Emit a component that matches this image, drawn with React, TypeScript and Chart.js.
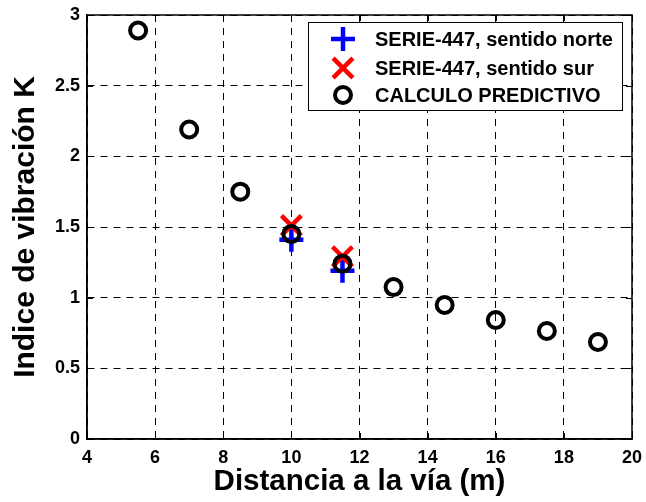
import React, { useEffect, useRef } from "react";
import { Chart, registerables } from "chart.js";

Chart.register(...registerables);

const xNorte = [10, 11.5];
const yNorte = [1.41, 1.19];
const xSur = [10, 11.5];
const ySur = [1.51, 1.29];
const xPred = [5.5, 7, 8.5, 10, 11.5, 13, 14.5, 16, 17.5, 19];
const yPred = [2.89, 2.19, 1.75, 1.45, 1.24, 1.075, 0.948, 0.842, 0.764, 0.686];
const seriesLabels = ["SERIE-447, sentido norte", "SERIE-447, sentido sur", "CALCULO PREDICTIVO"];
const xTitle = "Distancia a la vía (m)";
const yTitle = "Indice de vibración K";

const FONT = "'Liberation Sans', Arial, Helvetica, sans-serif";

function pts(xs: number[], ys: number[]) {
  return xs.map((x, i) => ({ x, y: ys[i] }));
}

function drawMarker(ctx: CanvasRenderingContext2D, style: string, x: number, y: number, r: number, color: string, lw: number) {
  ctx.save();
  ctx.strokeStyle = color;
  ctx.lineWidth = lw;
  ctx.beginPath();
  if (style === "cross") {
    ctx.moveTo(x - r, y);
    ctx.lineTo(x + r, y);
    ctx.moveTo(x, y - r);
    ctx.lineTo(x, y + r);
  } else if (style === "crossRot") {
    const d = r * Math.cos(Math.PI / 4);
    ctx.moveTo(x - d, y - d);
    ctx.lineTo(x + d, y + d);
    ctx.moveTo(x - d, y + d);
    ctx.lineTo(x + d, y - d);
  } else {
    ctx.arc(x, y, r, 0, Math.PI * 2);
  }
  ctx.stroke();
  ctx.restore();
}

const boxPlugin = {
  id: "boxPlugin",
  afterDraw(chart: any) {
    const { ctx, chartArea: a, scales } = chart;
    ctx.save();
    ctx.strokeStyle = "#000";
    ctx.lineWidth = 1.5;
    ctx.setLineDash([]);
    ctx.strokeRect(a.left, a.top, a.right - a.left, a.bottom - a.top);
    ctx.lineWidth = 1;
    const tl = 6;
    scales.x.ticks.forEach((t: any) => {
      const px = Math.round(scales.x.getPixelForValue(t.value)) + 0.5;
      ctx.beginPath();
      ctx.moveTo(px, a.bottom);
      ctx.lineTo(px, a.bottom - tl);
      ctx.moveTo(px, a.top);
      ctx.lineTo(px, a.top + tl);
      ctx.stroke();
    });
    scales.y.ticks.forEach((t: any) => {
      const py = Math.round(scales.y.getPixelForValue(t.value)) + 0.5;
      ctx.beginPath();
      ctx.moveTo(a.left, py);
      ctx.lineTo(a.left + tl, py);
      ctx.moveTo(a.right, py);
      ctx.lineTo(a.right - tl, py);
      ctx.stroke();
    });

    // legend
    const bw = 314;
    const bh = 88;
    const bx = a.right - 10 - bw;
    const by = a.top + 7;
    ctx.fillStyle = "#fff";
    ctx.fillRect(bx, by, bw, bh);
    ctx.strokeStyle = "#000";
    ctx.lineWidth = 1;
    ctx.strokeRect(bx + 0.5, by + 0.5, bw, bh);
    const rows = [17, 46, 73];
    chart.data.datasets.forEach((ds: any, i: number) => {
      const y = by + rows[i];
      drawMarker(ctx, ds.pointStyle, bx + 35, y, ds.pointRadius, ds.borderColor, ds.pointBorderWidth);
      ctx.fillStyle = "#000";
      ctx.font = `bold 20px ${FONT}`;
      ctx.textAlign = "left";
      ctx.textBaseline = "middle";
      ctx.fillText(ds.label, bx + 67, y + 1);
    });
    ctx.restore();
  },
};

const fmt = (v: any) => String(Number(v));

export default function App() {
  const ref = useRef<HTMLCanvasElement | null>(null);
  useEffect(() => {
    if (!ref.current) return;
    const chart = new Chart(ref.current, {
      type: "scatter",
      data: {
        datasets: [
          {
            label: seriesLabels[0],
            data: pts(xNorte, yNorte),
            pointStyle: "cross",
            pointRadius: 12,
            pointBorderWidth: 4.5,
            borderColor: "#0000ff",
            backgroundColor: "#0000ff",
            order: 3,
          } as any,
          {
            label: seriesLabels[1],
            data: pts(xSur, ySur),
            pointStyle: "crossRot",
            pointRadius: 14,
            pointBorderWidth: 4.5,
            borderColor: "#ff0000",
            backgroundColor: "#ff0000",
            order: 2,
          } as any,
          {
            label: seriesLabels[2],
            data: pts(xPred, yPred),
            pointStyle: "circle",
            pointRadius: 8,
            pointBorderWidth: 4,
            borderColor: "#000000",
            backgroundColor: "rgba(0,0,0,0)",
            order: 1,
          } as any,
        ],
      },
      options: {
        animation: false,
        responsive: false,
        maintainAspectRatio: false,
        layout: { autoPadding: false, padding: { left: 0, top: 15, right: 14, bottom: 0 } },
        plugins: { legend: { display: false }, tooltip: { enabled: false } },
        scales: {
          x: {
            type: "linear",
            min: 4,
            max: 20,
            ticks: {
              stepSize: 2,
              color: "#000",
              padding: 8,
              font: { family: FONT, size: 18, weight: "bold" },
              maxRotation: 0,
              callback: fmt,
            },
            grid: { color: "#000", lineWidth: 1, drawTicks: false },
            border: { display: true, color: "#000", width: 1.5, dash: [7, 6] },
            title: {
              display: true,
              text: xTitle,
              color: "#000",
              font: { family: FONT, size: 29.5, weight: "bold", lineHeight: 1 },
              padding: { top: 0, bottom: 5.5 },
            },
            afterFit: (s: any) => {
              s.height = 63;
              s.paddingLeft = 0;
              s.paddingRight = 0;
            },
          },
          y: {
            type: "linear",
            min: 0,
            max: 3,
            ticks: {
              stepSize: 0.5,
              color: "#000",
              padding: 7,
              font: { family: FONT, size: 18, weight: "bold" },
              callback: fmt,
            },
            grid: { color: "#000", lineWidth: 1, drawTicks: false },
            border: { display: true, color: "#000", width: 1.5, dash: [7, 6] },
            title: {
              display: true,
              text: yTitle,
              color: "#000",
              font: { family: FONT, size: 30, weight: "bold", lineHeight: 1 },
              padding: { top: 10.5, bottom: 0 },
            },
            afterFit: (s: any) => {
              s.width = 87;
              s.paddingTop = 0;
              s.paddingBottom = 0;
            },
          },
        },
      },
      plugins: [boxPlugin],
    } as any);
    return () => chart.destroy();
  }, []);
  return (
    <div style={{ position: "fixed", left: 0, top: 0, width: 646, height: 502, background: "#fff" }}>
      <canvas ref={ref} width={646} height={502} style={{ width: 646, height: 502 }} />
    </div>
  );
}
